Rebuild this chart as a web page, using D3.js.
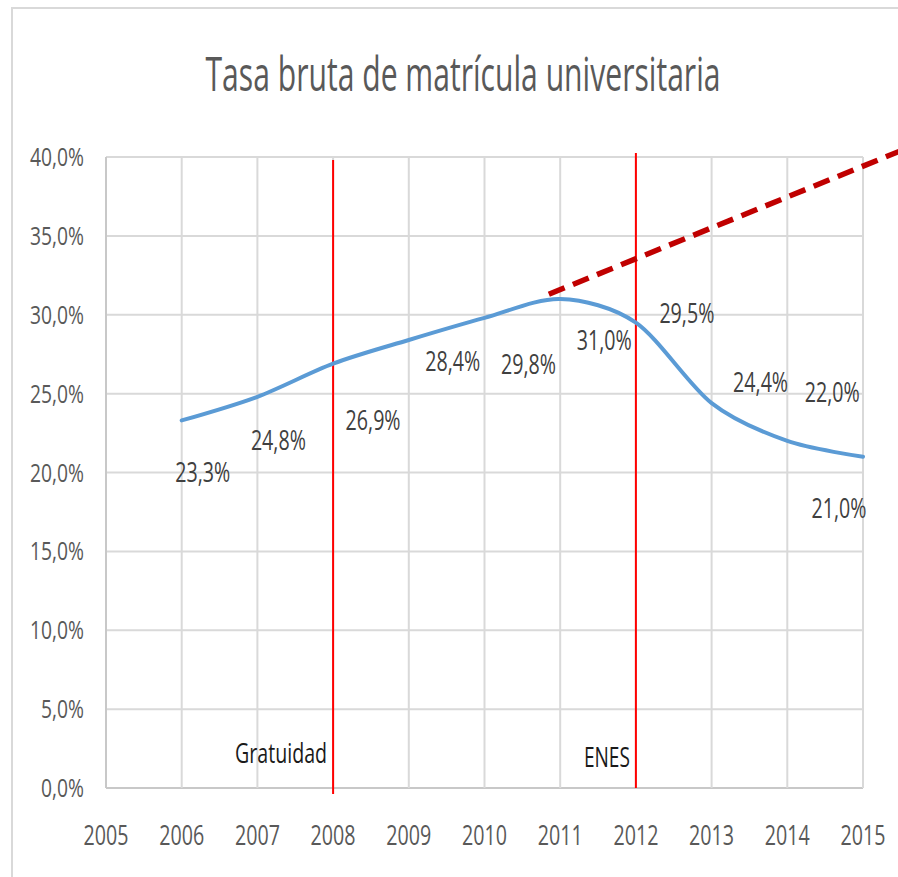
<!DOCTYPE html>
<html>
<head>
<meta charset="utf-8">
<script src="https://cdn.jsdelivr.net/npm/d3@7"></script>
<style>
  body { margin: 0; background: #fff; }
  text { font-family: 'Open Sans', 'Liberation Sans', sans-serif; }
</style>
</head>
<body>
<div id="chart"></div>
<script>
// data
const years = [2006, 2007, 2008, 2009, 2010, 2011, 2012, 2013, 2014, 2015]
const rates = [23.3, 24.8, 26.9, 28.4, 29.8, 31.0, 29.5, 24.4, 22.0, 21.0]
const yTicks = [0, 5, 10, 15, 20, 25, 30, 35, 40]
const xTicks = [2005, 2006, 2007, 2008, 2009, 2010, 2011, 2012, 2013, 2014, 2015]
const events = [{ year: 2008, name: 'Gratuidad' }, { year: 2012, name: 'ENES' }]
const trend = [[2010.85, 31.3], [2015.5, 40.4]]

// label offsets from the point (px), Excel put them all over the place
const labelOffsets = [[21, 62], [21, 53], [40, 66], [44, 31], [44, 56], [44, 51], [51, 0], [49, -11], [45, -39], [-24, 61]]

const W = 898, H = 877
const M = { LEFT: 106, RIGHT: 35, TOP: 157, BOTTOM: 89 }

// condensed look of the original: squeeze text to a given width
function squeeze(sel, w) {
  sel.attr('textLength', w).attr('lengthAdjust', 'spacingAndGlyphs')
}

const svg = d3.select('#chart').append('svg')
  .attr('width', W)
  .attr('height', H)

// outer frame
svg.append('path')
  .attr('d', `M12,${H} L12,8 L${W},8`)
  .attr('fill', 'none')
  .attr('stroke', '#d9d9d9')
  .attr('stroke-width', 2)

const x = d3.scaleLinear().domain([2005, 2015]).range([M.LEFT, W - M.RIGHT])
const y = d3.scaleLinear().domain([0, 40]).range([H - M.BOTTOM, M.TOP])

const pct = d => d3.format('.1f')(d).replace('.', ',') + '%'

// title
svg.append('text')
  .attr('x', 463)
  .attr('y', 91)
  .attr('text-anchor', 'middle')
  .style('font-size', '47px')
  .style('fill', '#595959')
  .text('Tasa bruta de matrícula universitaria')
  .call(squeeze, 515)

const g = svg.append('g')

// grid
g.selectAll('.hgrid')
  .data(yTicks)
  .join('line')
  .attr('class', 'hgrid')
  .attr('x1', x(2005))
  .attr('x2', x(2015))
  .attr('y1', d => y(d))
  .attr('y2', d => y(d))
  .attr('stroke', d => d === 0 ? '#c8c8c8' : '#d9d9d9')
  .attr('stroke-width', 2)

g.selectAll('.vgrid')
  .data(xTicks)
  .join('line')
  .attr('class', 'vgrid')
  .attr('x1', d => x(d))
  .attr('x2', d => x(d))
  .attr('y1', y(40))
  .attr('y2', y(0))
  .attr('stroke', d => d === 2005 ? '#c8c8c8' : '#d9d9d9')
  .attr('stroke-width', 2)

// y labels
g.selectAll('.ylab')
  .data(yTicks)
  .join('text')
  .attr('class', 'ylab')
  .attr('x', 84)
  .attr('y', d => y(d) + 9)
  .attr('text-anchor', 'end')
  .style('font-size', '25px')
  .style('fill', '#595959')
  .text(pct)
  .each(function (d) {
    d3.select(this).call(squeeze, d < 10 ? 43 : 54)
  })

// x labels
g.selectAll('.xlab')
  .data(xTicks)
  .join('text')
  .attr('class', 'xlab')
  .attr('x', d => x(d))
  .attr('y', 845)
  .attr('text-anchor', 'middle')
  .style('font-size', '27px')
  .style('fill', '#595959')
  .text(d => d)
  .call(squeeze, 45)

// event lines
g.selectAll('.event')
  .data(events)
  .join('line')
  .attr('class', 'event')
  .attr('x1', d => x(d.year))
  .attr('x2', d => x(d.year))
  .attr('y1', (d, i) => i === 0 ? 160 : 153)
  .attr('y2', (d, i) => i === 0 ? y(0) + 6 : y(0))
  .attr('stroke', '#ff0000')
  .attr('stroke-width', 2)

g.selectAll('.eventlab')
  .data(events)
  .join('text')
  .attr('class', 'eventlab')
  .attr('x', d => x(d.year) - 6)
  .attr('y', (d, i) => i === 0 ? 763 : 767)
  .attr('text-anchor', 'end')
  .style('font-size', '27px')
  .style('fill', '#1a1a1a')
  .text(d => d.name)
  .each(function (d, i) {
    d3.select(this).call(squeeze, i === 0 ? 92 : 46)
  })

// trend (dashed)
g.append('line')
  .attr('x1', x(trend[0][0]))
  .attr('y1', y(trend[0][1]))
  .attr('x2', x(trend[1][0]))
  .attr('y2', y(trend[1][1]))
  .attr('stroke', '#c00000')
  .attr('stroke-width', 5.5)
  .attr('stroke-dasharray', '17 9')

// series
let line = d3.line()
  .x((d, i) => x(years[i]))
  .y(d => y(d))
  .curve(d3.curveCardinal.tension(0.1))

g.append('path')
  .attr('d', line(rates))
  .attr('fill', 'none')
  .attr('stroke', '#5b9bd5')
  .attr('stroke-width', 4)
  .attr('stroke-linecap', 'round')

// data labels
g.selectAll('.dlab')
  .data(rates)
  .join('text')
  .attr('class', 'dlab')
  .attr('x', (d, i) => x(years[i]) + labelOffsets[i][0])
  .attr('y', (d, i) => y(d) + labelOffsets[i][1])
  .attr('text-anchor', 'middle')
  .style('font-size', '28px')
  .style('fill', '#404040')
  .text(pct)
  .call(squeeze, 55)
</script>
</body>
</html>
